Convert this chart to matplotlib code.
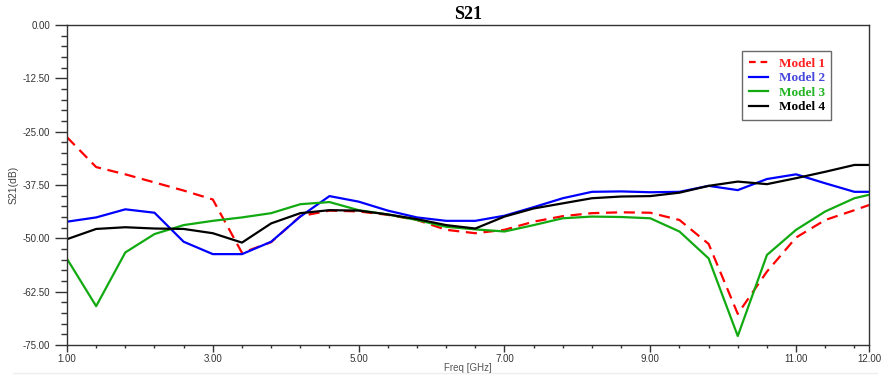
import matplotlib
matplotlib.use("Agg")
import matplotlib.pyplot as plt
from matplotlib.ticker import FixedLocator, MultipleLocator
from matplotlib.lines import Line2D

freq = [1.0, 1.4, 1.8, 2.2, 2.6, 3.0, 3.4, 3.8, 4.2, 4.6, 5.0, 5.4, 5.8, 6.2, 6.6,
        7.0, 7.4, 7.8, 8.2, 8.6, 9.0, 9.4, 9.8, 10.2, 10.6, 11.0, 11.4, 11.8, 12.0]

model1 = [-26.3, -33.3, -35.0, -36.9, -38.8, -40.9, -53.4, -50.9, -44.8, -43.5,
          -43.7, -44.5, -45.7, -48.0, -48.8, -48.0, -46.1, -44.8, -44.1, -43.9,
          -44.0, -45.7, -51.3, -67.7, -57.8, -49.8, -45.7, -43.4, -42.2]
model2 = [-46.1, -45.1, -43.2, -44.0, -50.8, -53.7, -53.7, -50.8, -44.9, -40.1,
          -41.4, -43.5, -45.1, -45.9, -45.9, -44.7, -42.7, -40.6, -39.1, -39.0,
          -39.2, -39.1, -37.7, -38.7, -36.1, -35.0, -37.1, -39.1, -39.1]
model3 = [-54.8, -65.9, -53.3, -49.0, -46.9, -45.9, -45.1, -44.1, -42.0, -41.5,
          -43.4, -44.4, -45.7, -47.3, -47.9, -48.4, -46.9, -45.3, -44.9, -45.0,
          -45.3, -48.4, -54.7, -72.9, -53.9, -48.0, -43.7, -40.6, -39.8]
model4 = [-50.2, -47.8, -47.4, -47.7, -47.8, -48.8, -51.0, -46.5, -44.1, -43.4,
          -43.5, -44.4, -45.5, -46.9, -47.7, -44.9, -43.0, -41.8, -40.6, -40.2,
          -40.1, -39.3, -37.7, -36.7, -37.3, -35.9, -34.4, -32.8, -32.8]

series_names = ["Model 1", "Model 2", "Model 3", "Model 4"]
x_ticks = [1.0, 3.0, 5.0, 7.0, 9.0, 11.0, 12.0]
x_tick_labels = ["1.00", "3.00", "5.00", "7.00", "9.00", "11.00", "12.00"]
y_ticks = [0.0, -12.5, -25.0, -37.5, -50.0, -62.5, -75.0]
y_tick_labels = ["0.00", "-12.50", "-25.00", "-37.50", "-50.00", "-62.50", "-75.00"]

fig = plt.figure(figsize=(8.9, 3.75), dpi=100)
ax = fig.add_axes([67/890, 1-345/375, 802/890, 320/375])

lw = 1.6
ax.plot(freq, model1, color="#ff0000", lw=lw, dashes=(5, 3), label=series_names[0])
ax.plot(freq, model2, color="#0000ff", lw=lw, label=series_names[1])
ax.plot(freq, model3, color="#11aa11", lw=lw, label=series_names[2])
ax.plot(freq, model4, color="#000000", lw=lw, label=series_names[3])

ax.set_xlim(1.0, 12.0)
ax.set_ylim(-75.0, 0.0)

ax.xaxis.set_major_locator(FixedLocator(x_ticks))
ax.set_xticklabels(x_tick_labels)
minor_x = [1.0 + 0.4 * i for i in range(28)]
ax.xaxis.set_minor_locator(FixedLocator(minor_x))
ax.yaxis.set_major_locator(FixedLocator(y_ticks))
ax.set_yticklabels(y_tick_labels)
ax.yaxis.set_minor_locator(MultipleLocator(2.5))

ax.tick_params(axis="y", which="major", direction="out", length=9, width=1.0,
               labelsize=7, colors="#333333", pad=3)
ax.tick_params(axis="y", which="minor", direction="out", length=4, width=1.0, colors="#333333")
ax.tick_params(axis="x", which="major", direction="out", length=5, width=1.0,
               labelsize=7, colors="#333333", pad=1.5)
ax.tick_params(axis="x", which="minor", direction="out", length=2.5, width=1.0, colors="#333333")

for sp in ax.spines.values():
    sp.set_color("#333333")
    sp.set_linewidth(1.0)

for lab in ax.get_xticklabels() + ax.get_yticklabels():
    lab.set_family("Liberation Sans")

ax.set_xlabel("Freq [GHz]", fontsize=7, family="Liberation Sans", color="#555555")
ax.xaxis.set_label_coords(0.5, -0.055)
ax.set_ylabel("S21(dB)", fontsize=7.5, family="Liberation Sans", color="#444444")
ax.yaxis.set_label_coords(-0.06, 0.5)
ax.set_title("S21", fontsize=13, family="Liberation Serif", fontweight="bold", pad=4)

leg = ax.legend(loc="upper left", bbox_to_anchor=(0.842, 0.919), frameon=True, fancybox=False,
                prop={"family": "Liberation Serif", "weight": "bold", "size": 9.5},
                handlelength=1.45, handletextpad=0.8, labelspacing=0.17,
                borderpad=0.5, borderaxespad=0.0)
leg.get_frame().set_edgecolor("#444444")
leg.get_frame().set_linewidth(1.0)
leg.get_lines()[0].set_dashes((3, 2.2))
text_colors = ["#ff2020", "#4848dc", "#22b422", "#000000"]
for t, c in zip(leg.get_texts(), text_colors):
    t.set_color(c)

fig.add_artist(Line2D([0.015, 0.985], [1-373/375, 1-373/375], transform=fig.transFigure,
                      color="#eeeeee", lw=1.0))

fig.savefig("out.png", dpi=100)
